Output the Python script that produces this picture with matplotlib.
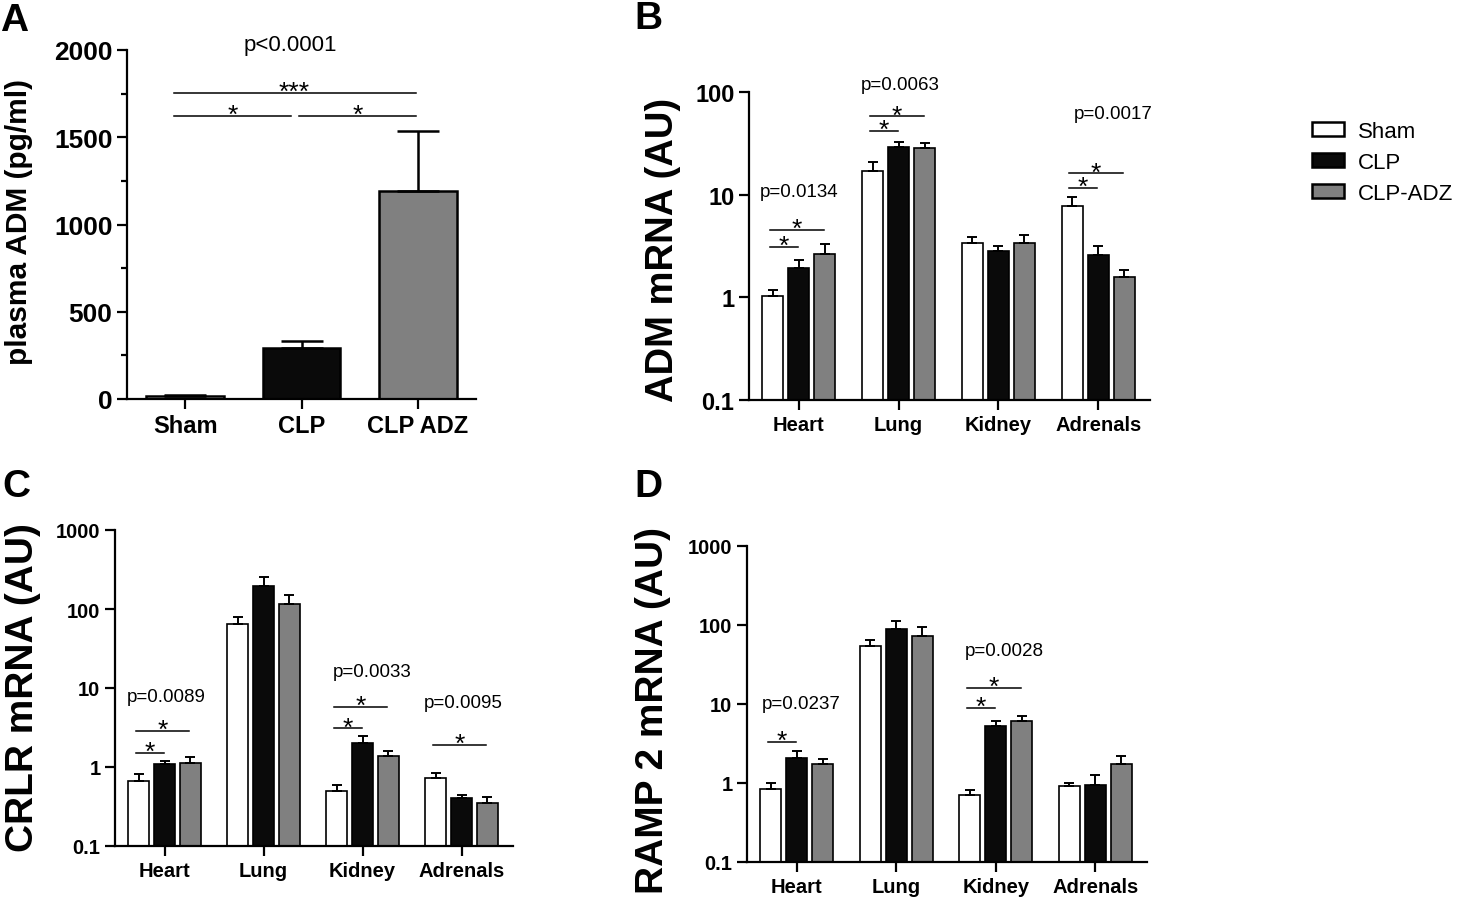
import matplotlib
matplotlib.use("Agg")
import matplotlib.pyplot as plt
from matplotlib.patches import Patch
from matplotlib.ticker import MultipleLocator, NullLocator
import numpy as np

plt.rcParams['font.family'] = ['Liberation Sans', 'DejaVu Sans']

# ---- data ----
groups_a = ["Sham", "CLP", "CLP ADZ"]
adm_plasma = [15, 292, 1192]
adm_plasma_err = [6, 40, 345]

organs = ["Heart", "Lung", "Kidney", "Adrenals"]
series = ["Sham", "CLP", "CLP-ADZ"]
colors = ["white", "#0a0a0a", "#808080"]

# rows = organs, cols = Sham, CLP, CLP-ADZ
adm_mrna = [[1.03, 1.93, 2.64], [17.0, 29.0, 28.5], [3.38, 2.83, 3.38], [7.7, 2.58, 1.58]]
adm_mrna_err = [[0.15, 0.38, 0.66], [3.8, 3.5, 3.2], [0.48, 0.33, 0.67], [1.8, 0.58, 0.27]]

crlr_mrna = [[0.665, 1.09, 1.12], [64.5, 195, 115], [0.50, 2.0, 1.38], [0.73, 0.41, 0.35]]
crlr_mrna_err = [[0.15, 0.10, 0.22], [14.5, 59, 36], [0.09, 0.45, 0.21], [0.11, 0.03, 0.07]]

ramp2_mrna = [[0.84, 2.07, 1.74], [54, 89, 73], [0.70, 5.3, 6.1], [0.91, 0.94, 1.74]]
ramp2_mrna_err = [[0.15, 0.47, 0.26], [11, 23, 21], [0.12, 0.8, 1.0], [0.08, 0.32, 0.46]]

# significance: (organ, bar i, bar j, y)
adm_sig = [(0, 0, 1, 3.09), (0, 0, 2, 4.52), (1, 0, 1, 41.7), (1, 0, 2, 58),
           (3, 0, 1, 11.6), (3, 0, 2, 16.2)]
adm_p = [(0, 0.0, 10.8, "p=0.0134"), (1, 0.02, 117, "p=0.0063"), (3, 0.15, 62, "p=0.0017")]
crlr_sig = [(0, 0, 1, 1.5), (0, 0, 2, 2.86), (2, 0, 1, 3.1), (2, 0, 2, 5.75), (3, 0, 2, 1.9)]
crlr_p = [(0, 0.02, 7.7, "p=0.0089"), (2, 0.1, 16, "p=0.0033"), (3, 0.02, 6.6, "p=0.0095")]
ramp2_sig = [(0, 0, 1, 3.3), (2, 0, 1, 8.9), (2, 0, 2, 15.9)]
ramp2_p = [(0, 0.05, 10, "p=0.0237"), (2, 0.09, 47, "p=0.0028")]

W, H = 1459, 903
fig = plt.figure(figsize=(W / 100, H / 100), dpi=100)


def box(x0, y0, x1, y1):
    return [x0 / W, 1 - y1 / H, (x1 - x0) / W, (y1 - y0) / H]


def style(ax):
    ax.spines["top"].set_visible(False)
    ax.spines["right"].set_visible(False)
    for s in ("left", "bottom"):
        ax.spines[s].set_linewidth(1.6)
    ax.tick_params(width=1.6, length=7, direction="out")


def sig_line(ax, x0, x1, y, label="*", fs=19):
    ax.plot([x0, x1], [y, y], color="black", lw=1.1, clip_on=False)
    ax.annotate(label, xy=((x0 + x1) / 2, y), xytext=(0, -4.5), textcoords="offset points",
                ha="center", va="baseline", fontsize=fs, annotation_clip=False)


# ---- panel A ----
axA = fig.add_axes(box(127, 51, 476, 400))
style(axA)
xa = np.arange(len(groups_a))
axA.bar(xa, adm_plasma, width=0.67, color=["white", "#0a0a0a", "#808080"],
        edgecolor="black", linewidth=1.8, zorder=2)
axA.errorbar(xa, adm_plasma, yerr=[np.zeros(3), adm_plasma_err], fmt="none",
             ecolor="black", elinewidth=1.8, capsize=15, capthick=1.8, zorder=3)
axA.set_xlim(-0.5, 2.5)
axA.set_ylim(0, 2000)
axA.yaxis.set_major_locator(MultipleLocator(500))
axA.yaxis.set_minor_locator(MultipleLocator(250))
axA.tick_params(axis="y", which="minor", length=4, width=1.6)
axA.set_xticks(xa)
axA.set_xticklabels(groups_a, fontsize=17, fontweight="bold")
for t in axA.get_yticklabels():
    t.set_fontsize(19)
    t.set_fontweight("bold")
axA.set_ylabel("plasma ADM (pg/ml)", fontsize=21.5, fontweight="bold")
axA.yaxis.set_label_coords(-0.27, 0.51)
sig_line(axA, -0.1, 0.91, 1622)
sig_line(axA, 0.98, 1.98, 1622)
sig_line(axA, -0.1, 1.98, 1753, "***")
axA.text(0.9, 2034, "p<0.0001", ha="center", va="center", fontsize=16, clip_on=False)

# ---- log panels ----
offsets = [-0.26, 0.0, 0.26]


def log_panel(rect, vals, errs, ylim, ticks, tick_fs, ylabel, lab_xy, lab_fs, sigs, pvals):
    ax = fig.add_axes(rect)
    style(ax)
    xg = np.arange(len(organs))
    v = np.array(vals)
    e = np.array(errs)
    for k in range(3):
        ax.bar(xg + offsets[k], v[:, k], width=0.21, color=colors[k],
               edgecolor="black", linewidth=1.2, zorder=2)
        ax.errorbar(xg + offsets[k], v[:, k], yerr=[np.zeros(len(xg)), e[:, k]], fmt="none",
                    ecolor="black", elinewidth=1.4, capsize=3.6, capthick=1.4, zorder=3)
    ax.set_yscale("log")
    ax.set_ylim(*ylim)
    ax.set_xlim(-0.5, 3.52)
    ax.set_yticks(ticks)
    ax.set_yticklabels([("%g" % t) for t in ticks], fontsize=tick_fs, fontweight="bold")
    ax.yaxis.set_minor_locator(NullLocator())
    ax.set_xticks(xg)
    ax.set_xticklabels(organs, fontsize=14.5, fontweight="bold")
    ax.set_ylabel(ylabel, fontsize=lab_fs, fontweight="bold")
    ax.yaxis.set_label_coords(*lab_xy)
    for g, i, j, y in sigs:
        sig_line(ax, g + offsets[i] - 0.03, g + offsets[j] - 0.01, y)
    for g, dx, y, s in pvals:
        ax.text(g + dx, y, s, ha="center", va="center", fontsize=13.5, clip_on=False)
    return ax


axB = log_panel(box(749, 93, 1150, 401), adm_mrna, adm_mrna_err, (0.1, 100),
                [0.1, 1, 10, 100], 17, "ADM mRNA (AU)", (-0.17, 0.49), 27.5, adm_sig, adm_p)
axC = log_panel(box(115, 531, 513, 847), crlr_mrna, crlr_mrna_err, (0.1, 1000),
                [0.1, 1, 10, 100, 1000], 14.5, "CRLR mRNA (AU)", (-0.186, 0.503), 28, crlr_sig, crlr_p)
axD = log_panel(box(747, 547, 1147, 863), ramp2_mrna, ramp2_mrna_err, (0.1, 1000),
                [0.1, 1, 10, 100, 1000], 14.5, "RAMP 2 mRNA (AU)", (-0.19, 0.484), 28, ramp2_sig, ramp2_p)

# legend
handles = [Patch(facecolor=c, edgecolor="black", linewidth=1.8) for c in colors]
fig.legend(handles, series, loc="upper left", bbox_to_anchor=(1292 / W, 1 - 102 / H),
           frameon=False, fontsize=16, handlelength=1.45, handleheight=0.63,
           handletextpad=0.6, labelspacing=0.45)

# panel letters
for s, x, y in [("A", 0, 3), ("B", 634, 1), ("C", 2, 469), ("D", 634, 469)]:
    fig.text(x / W, 1 - y / H, s, fontsize=28, fontweight="bold", ha="left", va="top")

fig.savefig("out.png", dpi=100)
